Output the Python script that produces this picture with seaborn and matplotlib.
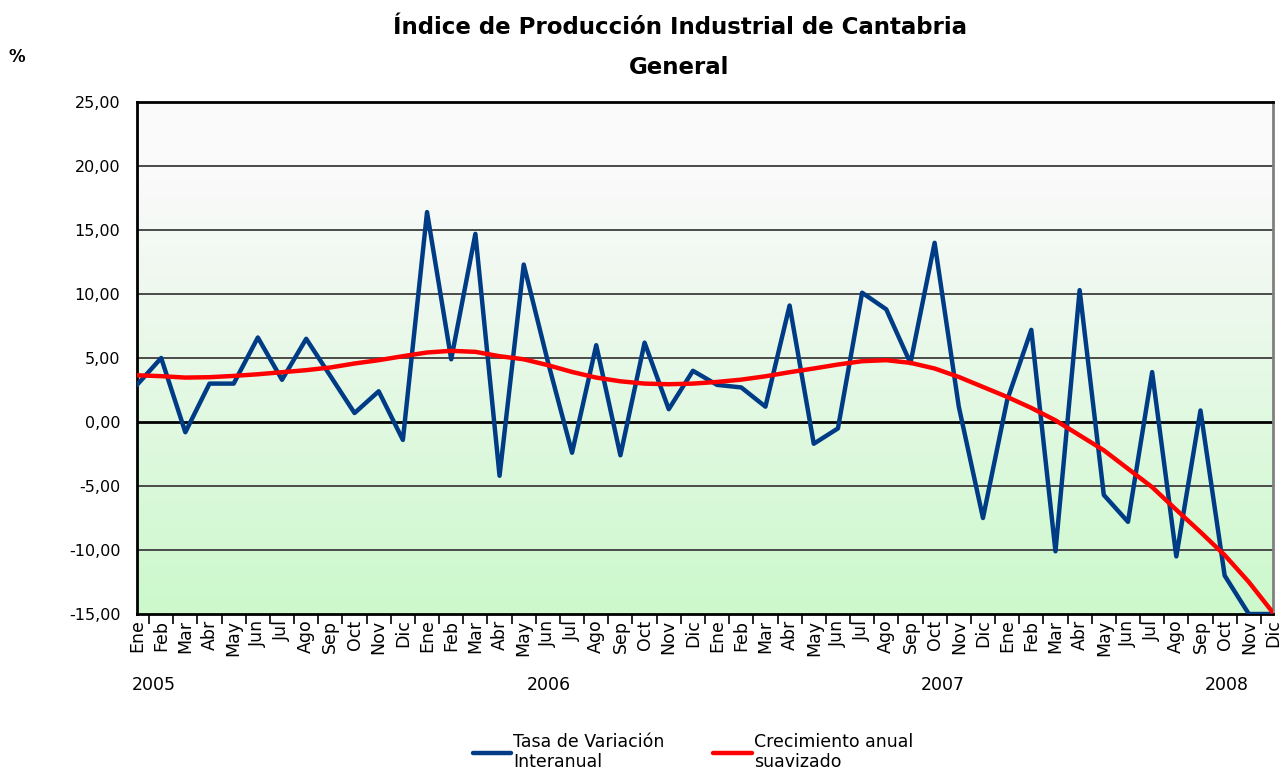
import numpy as np
import pandas as pd
import matplotlib
matplotlib.use("Agg")
import matplotlib.pyplot as plt
import seaborn as sns
from matplotlib.colors import LinearSegmentedColormap

# ---------------------------
# datos
# ---------------------------
meses = ['Ene', 'Feb', 'Mar', 'Abr', 'May', 'Jun',
         'Jul', 'Ago', 'Sep', 'Oct', 'Nov', 'Dic']
anios = ['2005', '2006', '2007', '2008']
anio_pos = [0.7, 17.05, 33.35, 45.1]   # posición de la etiqueta del año

tasa_interanual = [
    2.9, 5.0, -0.8, 3.0, 3.0, 6.6, 3.3, 6.5, 3.6, 0.7, 2.4, -1.4,
    16.4, 4.9, 14.7, -4.2, 12.3, 4.7, -2.4, 6.0, -2.6, 6.2, 1.0, 4.0,
    2.9, 2.7, 1.2, 9.1, -1.7, -0.5, 10.1, 8.8, 4.6, 14.0, 1.2, -7.5,
    1.7, 7.2, -10.1, 10.3, -5.7, -7.8, 3.9, -10.5, 0.9, -12.0, -15.0, -15.0,
]
crecimiento_suav = [
    3.65, 3.58, 3.47, 3.50, 3.60, 3.73, 3.89, 4.05, 4.26, 4.57, 4.83, 5.14,
    5.43, 5.56, 5.48, 5.14, 4.90, 4.44, 3.91, 3.47, 3.18, 3.00, 2.95, 3.00,
    3.13, 3.31, 3.57, 3.89, 4.18, 4.49, 4.75, 4.83, 4.62, 4.18, 3.52, 2.74,
    1.96, 1.10, 0.13, -1.04, -2.21, -3.65, -5.09, -6.86, -8.60, -10.40, -12.50, -14.90,
]

etiquetas_x = meses * len(anios)
pos = np.arange(len(etiquetas_x))

df = pd.DataFrame({
    'pos': np.concatenate([pos, pos]),
    'valor': tasa_interanual + crecimiento_suav,
    'serie': ['Tasa de Variación\nInteranual'] * len(pos)
             + ['Crecimiento anual\nsuavizado'] * len(pos),
})

# ---------------------------
# figura
# ---------------------------
sns.set_style("white")
plt.rcParams['font.family'] = ['DejaVu Sans']
plt.rcParams['text.color'] = 'black'
plt.rcParams['xtick.color'] = 'black'
plt.rcParams['ytick.color'] = 'black'

fig = plt.figure(figsize=(12.87, 7.72), dpi=100)
ax = fig.add_axes([137 / 1287, 1 - 614 / 772, (1273 - 137) / 1287, (614 - 102) / 772])

# fondo degradado gris claro -> verde claro
cmap = LinearSegmentedColormap.from_list(
    'fondo', [(0.0, '#CCF8CC'), (0.55, '#EAF8EA'), (0.85, '#FAFAFA'), (1.0, '#FAFAFA')])
grad = np.linspace(0, 1, 256).reshape(-1, 1)
ax.imshow(grad, aspect='auto', cmap=cmap, origin='lower',
          extent=[0, len(pos) - 1, -15, 25], zorder=0)

for y in range(-10, 25, 5):
    ax.axhline(y, color='#000000' if y == 0 else '#4a4a4a',
               lw=2.0 if y == 0 else 1.4, zorder=1)

sns.lineplot(data=df, x='pos', y='valor', hue='serie',
             palette=['#003C85', '#FF0000'], linewidth=3.2,
             ax=ax, legend=True, zorder=3)

ax.set_xlim(0, len(pos) - 1)
ax.set_ylim(-15, 25)
ax.set_xlabel('')
ax.set_ylabel('')

# eje y
yt = list(range(-15, 26, 5))
ax.set_yticks(yt)
ax.set_yticklabels([f'{v:.2f}'.replace('.', ',') for v in yt], fontsize=11.5)
ax.tick_params(axis='y', length=0, pad=12)

# eje x: meses rotados, marcas entre categorías
ax.set_xticks(pos)
ax.set_xticklabels(etiquetas_x, rotation=90, fontsize=12.5)
ax.tick_params(axis='x', which='major', bottom=True, length=0, pad=4)
ax.set_xticks(pos[:-1] + 0.5, minor=True)
ax.tick_params(axis='x', which='minor', bottom=True, length=7, width=1.2,
               color='black', direction='out')

for a, p in zip(anios, anio_pos):
    ax.text(p, -0.121, a, transform=ax.get_xaxis_transform(),
            ha='center', va='top', fontsize=12.5)

for s in ['left', 'bottom', 'top']:
    ax.spines[s].set_color('black')
    ax.spines[s].set_linewidth(2.0)
ax.spines['right'].set_color('#808080')
ax.spines['right'].set_linewidth(2.0)

# títulos
fig.text(0.528, 1 - 27 / 772, 'Índice de Producción Industrial de Cantabria',
         ha='center', va='center', fontsize=16.5, fontweight='bold')
fig.text(0.528, 1 - 67 / 772, 'General',
         ha='center', va='center', fontsize=16.5, fontweight='bold')
fig.text(17 / 1287, 1 - 57 / 772, '%', ha='center', va='center',
         fontsize=12, fontweight='bold')

# leyenda
h, l = ax.get_legend_handles_labels()
ax.get_legend().remove()
fig.legend(h, l, loc='center', bbox_to_anchor=(693 / 1287, 1 - 752 / 772),
           ncol=2, frameon=False, fontsize=12.5, handlelength=2.2,
           handletextpad=0.15, columnspacing=2.8)

plt.savefig('out.png', dpi=100)
